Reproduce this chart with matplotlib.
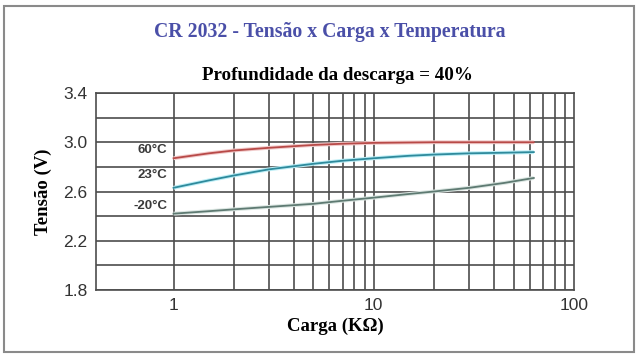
import matplotlib
matplotlib.use("Agg")
import matplotlib.pyplot as plt
import numpy as np
from matplotlib.patches import Rectangle

# carga (kOhm) e tensao (V)
carga = [1, 1.5, 2, 3, 5, 7, 10, 15, 20, 30, 45, 63]
v_60 = [2.87, 2.91, 2.933, 2.955, 2.978, 2.988, 2.995, 2.998, 3.0, 3.0, 3.0, 3.0]
v_23 = [2.63, 2.69, 2.73, 2.78, 2.825, 2.85, 2.87, 2.89, 2.90, 2.91, 2.915, 2.92]
v_m20 = [2.42, 2.44, 2.455, 2.475, 2.50, 2.525, 2.55, 2.58, 2.60, 2.63, 2.67, 2.71]

series = [("60°C", v_60, "#b84a48", "#f2cccc", 2.937),
          ("23°C", v_23, "#2e8a9c", "#bdeef6", 2.734),
          ("-20°C", v_m20, "#5e7a72", "#dbe6e2", 2.482)]

x_major = [1, 10, 100]
y_ticks = [1.8, 2.2, 2.6, 3.0, 3.4]

serif = "Liberation Serif"
sans = "Liberation Sans"
grid_c = "#4d4d4d"

fig = plt.figure(figsize=(6.42, 3.59), dpi=100)
ax = fig.add_axes([96 / 642, 69 / 359, 478 / 642, 197 / 359])

ax.set_xscale("log")
ax.set_xlim(0.41, 100)
ax.set_ylim(1.8, 3.4)

# grade: linhas verticais 1..100, horizontais de 0.2 em 0.2
for dec in [1, 10]:
    for k in range(1, 10):
        ax.axvline(dec * k, color=grid_c, lw=1.2, zorder=1)
for yv in np.arange(1.8, 3.41, 0.2):
    ax.axhline(yv, color=grid_c, lw=1.2, zorder=1)

for name, v, c, glow, ly in series:
    ax.plot(carga, v, color=glow, lw=2.8, zorder=2, solid_capstyle="butt")
    ax.plot(carga, v, color=c, lw=1.3, zorder=3)
    ax.text(0.93, ly, name, ha="right", va="center", fontsize=9.5,
            family=sans, fontweight="bold", color="#3a3a3a", zorder=4)

ax.set_xticks(x_major)
ax.set_xticklabels(["1", "10", "100"])
ax.set_xticks([], minor=True)
ax.set_yticks(y_ticks)
ax.set_yticklabels([f"{t:.1f}" for t in y_ticks])
ax.tick_params(length=0, labelsize=12.5, colors="#333333", pad=6)
for lab in ax.get_xticklabels() + ax.get_yticklabels():
    lab.set_family(sans)
for sp in ax.spines.values():
    sp.set_color(grid_c)
    sp.set_linewidth(1.2)

ax.set_xlabel("Carga (KΩ)", family=serif, fontsize=13.5, fontweight="bold", labelpad=3)
ax.set_ylabel("Tensão (V)", family=serif, fontsize=13.5, fontweight="bold", labelpad=8)

fig.text(329.5 / 642, 1 - 32 / 359, "CR 2032 - Tensão x Carga x Temperatura",
         ha="center", va="center", family=serif, fontsize=14.2, fontweight="bold",
         color="#4a4fa8")
fig.text(337 / 642, 1 - 75 / 359, "Profundidade da descarga = 40%",
         ha="center", va="center", family=serif, fontsize=13.7, fontweight="bold",
         color="black")

# moldura em volta da figura
fig.patches.append(Rectangle((4 / 642, 1 - 352 / 359), 630 / 642, 346 / 359,
                             transform=fig.transFigure, fill=False,
                             edgecolor="#8a8a8a", lw=1.5))

fig.savefig("out.png", dpi=100)
